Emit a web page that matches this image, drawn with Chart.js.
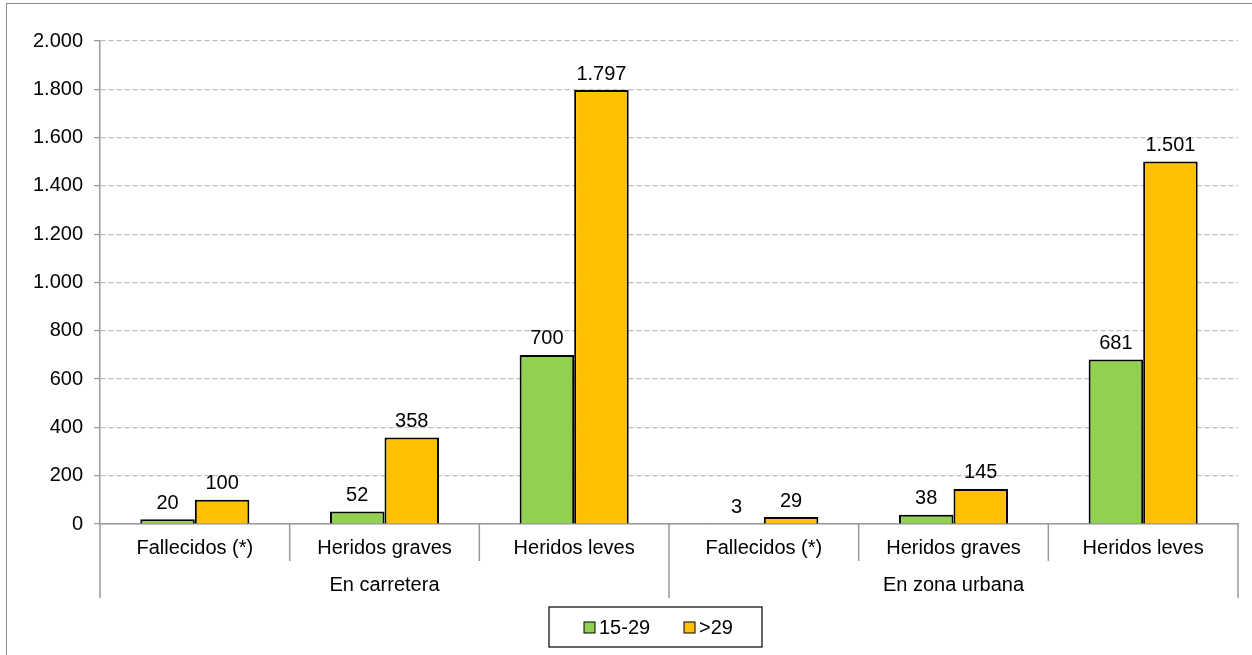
<!DOCTYPE html>
<html>
<head>
<meta charset="utf-8">
<script src="https://cdn.jsdelivr.net/npm/chart.js@4.4.1/dist/chart.umd.min.js"></script>
<style>
  html, body { margin: 0; padding: 0; background: #fff; overflow: hidden; }
  #wrap { position: absolute; left: 0; top: 0; width: 1252px; height: 655px; }
  #frame { position: absolute; left: 6px; top: 3px; width: 1400px; height: 800px; border: 1.5px solid #8c8c8c; box-sizing: border-box; pointer-events: none; }
</style>
</head>
<body>
<div id="wrap">
  <canvas id="c" width="1252" height="655"></canvas>
  <div id="frame"></div>
</div>
<script>
const categories = ["Fallecidos (*)", "Heridos graves", "Heridos leves", "Fallecidos (*)", "Heridos graves", "Heridos leves"];
const groups = ["En carretera", "En zona urbana"];
const groupSize = 3;
const seriesNames = ["15-29", ">29"];
const young = [20, 52, 700, 3, 38, 681];
const older = [100, 358, 1797, 29, 145, 1501];
const yTicks = [0, 200, 400, 600, 800, 1000, 1200, 1400, 1600, 1800, 2000];

const FONT = "'Liberation Sans', Arial, sans-serif";
const FS = 20;
const colors = ["#92d050", "#ffc000"];

function fmt(v) {
  return String(Math.round(v)).replace(/\B(?=(\d{3})+(?!\d))/g, ".");
}

const decor = {
  id: "decor",
  afterDatasetsDraw(chart) {
    const ctx = chart.ctx;
    ctx.save();
    ctx.font = FS + "px " + FONT;
    ctx.fillStyle = "#000";
    ctx.textAlign = "center";
    ctx.textBaseline = "middle";
    chart.data.datasets.forEach((ds, di) => {
      const meta = chart.getDatasetMeta(di);
      meta.data.forEach((bar, i) => {
        ctx.fillText(fmt(ds.data[i]), bar.x, bar.y - 16);
      });
    });
    ctx.restore();
  },
  afterDraw(chart) {
    const ctx = chart.ctx;
    const x = chart.scales.x;
    const area = chart.chartArea;
    const n = categories.length;
    const bnd = [];
    for (let i = 0; i <= n; i++) {
      if (i === 0) bnd.push(area.left);
      else if (i === n) bnd.push(area.right);
      else bnd.push((x.getPixelForValue(i - 1) + x.getPixelForValue(i)) / 2);
    }
    ctx.save();
    ctx.strokeStyle = "#999";
    ctx.lineWidth = 1.5;
    for (let i = 0; i <= n; i++) {
      const major = (i % groupSize === 0);
      ctx.beginPath();
      ctx.moveTo(bnd[i], area.bottom);
      ctx.lineTo(bnd[i], area.bottom + (major ? 74 : 37));
      ctx.stroke();
    }
    // group labels
    ctx.font = FS + "px " + FONT;
    ctx.fillStyle = "#000";
    ctx.textAlign = "center";
    ctx.textBaseline = "middle";
    groups.forEach((g, gi) => {
      const cx = (bnd[gi * groupSize] + bnd[(gi + 1) * groupSize]) / 2;
      ctx.fillText(g, cx, area.bottom + 61);
    });
    // legend
    const lx = 549, ly = 607, lw = 213, lh = 40;
    ctx.strokeStyle = "#000";
    ctx.lineWidth = 1.2;
    ctx.strokeRect(lx, ly, lw, lh);
    const items = [[584, 599], [684, 699]];
    ctx.textAlign = "left";
    chart.data.datasets.forEach((ds, di) => {
      const [sx, tx] = items[di];
      ctx.fillStyle = ds.backgroundColor;
      ctx.fillRect(sx, ly + 15, 11, 11);
      ctx.lineWidth = 1;
      ctx.strokeStyle = "#000";
      ctx.strokeRect(sx, ly + 15, 11, 11);
      ctx.fillStyle = "#000";
      ctx.fillText(ds.label, tx, ly + 21);
    });
    ctx.restore();
  }
};

new Chart(document.getElementById("c"), {
  type: "bar",
  data: {
    labels: categories,
    datasets: [
      { label: seriesNames[0], data: young, backgroundColor: colors[0], borderColor: "#000", borderWidth: 2 },
      { label: seriesNames[1], data: older, backgroundColor: colors[1], borderColor: "#000", borderWidth: 2 }
    ]
  },
  options: {
    responsive: false,
    animation: false,
    devicePixelRatio: 1,
    layout: { padding: { left: 0, right: 14, top: 41, bottom: 0 } },
    datasets: { bar: { categoryPercentage: 0.575, barPercentage: 1 } },
    plugins: { legend: { display: false }, tooltip: { enabled: false } },
    scales: {
      x: {
        grid: { display: false, drawTicks: false },
        border: { display: true, color: "#999", width: 1.5 },
        ticks: { color: "#000", font: { family: FONT, size: FS }, padding: 12, maxRotation: 0, autoSkip: false },
        afterFit(s) { s.height = 131; }
      },
      y: {
        min: 0,
        max: 2000,
        afterBuildTicks(s) { s.ticks = yTicks.map(v => ({ value: v })); },
        grid: { color: "#bfbfbf", lineWidth: 1.2, tickLength: 6, tickColor: "#999", tickBorderDash: [] },
        border: { display: true, color: "#999", width: 1.5, dash: [5, 3] },
        ticks: { color: "#000", font: { family: FONT, size: FS }, padding: 11, callback: v => fmt(v) },
        afterFit(s) { s.width = 100; }
      }
    }
  },
  plugins: [decor]
});
</script>
</body>
</html>
